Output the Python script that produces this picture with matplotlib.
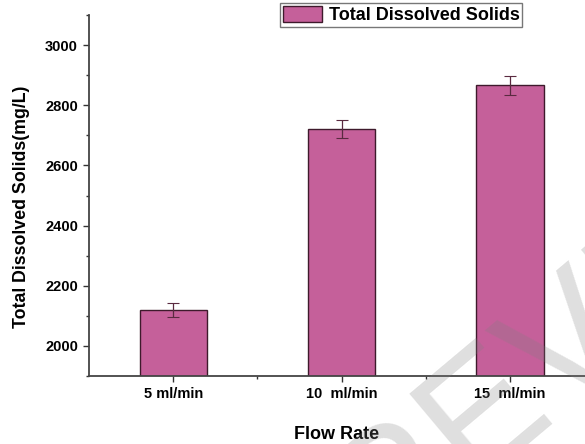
import numpy as np
import matplotlib
matplotlib.use("Agg")
import matplotlib.pyplot as plt
from matplotlib.ticker import MultipleLocator

plt.rcParams['font.family'] = ['Liberation Sans', 'DejaVu Sans']

categories = ["5 ml/min", "10  ml/min", "15  ml/min"]
tds = [2120, 2722, 2866]
tds_err = [24, 30, 32]

bar_color = "#C5609A"
edge_color = "#3E1A2C"

fig = plt.figure(figsize=(5.85, 4.44), dpi=100)
ax = fig.add_axes([89 / 585, 1 - 376 / 444, 1 - 89 / 585, (376 - 15) / 444])

x = np.arange(len(categories))
ax.bar(x, tds, width=0.4, color=bar_color, edgecolor=edge_color, linewidth=1.0,
       label="Total Dissolved Solids", zorder=2)
ax.errorbar(x, tds, yerr=tds_err, fmt="none", ecolor="#5a2a40", elinewidth=0.9,
            capsize=4, capthick=0.8, zorder=3)

ax.set_xlim(-0.5, 2 + (585 - 510) / 168.5)
ax.set_ylim(1900, 3100)
ax.set_xticks(x)
ax.set_xticklabels(categories, fontweight="bold", fontsize=10.5)
ax.set_xticks([0.5, 1.5], minor=True)
ax.yaxis.set_minor_locator(MultipleLocator(100))
ax.set_yticks([2000, 2200, 2400, 2600, 2800, 3000])
for lab in ax.get_yticklabels():
    lab.set_fontweight("bold")
    lab.set_fontsize(10.5)
ax.tick_params(axis="both", which="major", length=4.5, width=1, color="#333333")
ax.tick_params(axis="both", which="minor", length=2.5, width=1, color="#333333")

for side in ["top", "right"]:
    ax.spines[side].set_visible(False)
for side in ["left", "bottom"]:
    ax.spines[side].set_linewidth(1.3)
    ax.spines[side].set_color("#444444")

ax.set_xlabel("Flow Rate", fontweight="bold", fontsize=13, labelpad=18)
ax.set_ylabel("Total Dissolved Solids(mg/L)", fontweight="bold", fontsize=12.8)
ax.yaxis.set_label_coords(-0.119, 0.468)

leg = ax.legend(loc="upper left", bbox_to_anchor=(280 / 585, 1 - 3 / 444),
                bbox_transform=fig.transFigure, frameon=True, fancybox=False,
                prop={"weight": "bold", "size": 13}, handlelength=2.2,
                handleheight=1.0, borderpad=0.15, handletextpad=0.35,
                borderaxespad=0)
leg.get_frame().set_edgecolor("#555555")
leg.get_frame().set_linewidth(1.0)

# faint watermark
fig.text(560 / 585, 1 - 350 / 444, "PREVIEW", fontsize=120, color="#808080",
         alpha=0.25, rotation=40, ha="center", va="center", zorder=10)

fig.savefig("out.png", dpi=100)
